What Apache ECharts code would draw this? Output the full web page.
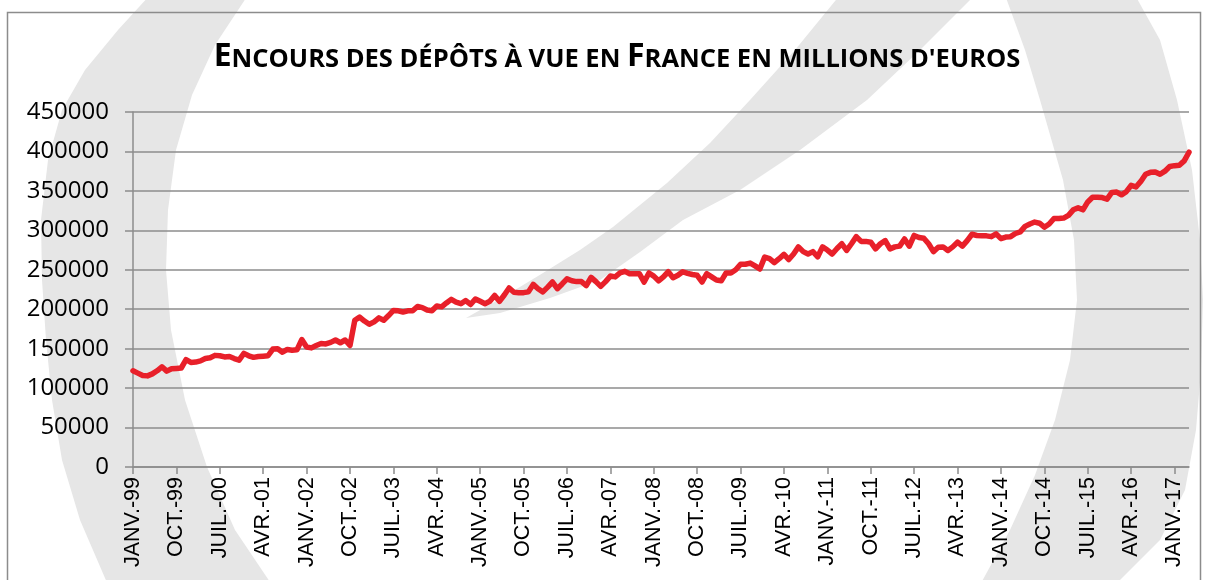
<!DOCTYPE html>
<html>
<head>
<meta charset="utf-8">
<script src="https://cdn.jsdelivr.net/npm/echarts@6/dist/echarts.min.js"></script>
<style>
  html, body { margin: 0; padding: 0; background: #fff; }
  #depots { width: 1208px; height: 580px; }
</style>
</head>
<body>
<div id="depots"></div>
<script>
// mois affichés sur l'axe (un libellé tous les 9 mois, Excel style)
var moisNoms = ['JANV.', 'FÉVR.', 'MARS', 'AVR.', 'MAI', 'JUIN', 'JUIL.', 'AOÛT', 'SEPT.', 'OCT.', 'NOV.', 'DÉC.'];
var anneeDebut = 1999;
var nbMois = 220; // janv. 1999 -> avr. 2017

var categories = [];
for (var i = 0; i < nbMois; i++) {
  var an = anneeDebut + Math.floor(i / 12);
  categories.push(moisNoms[i % 12] + '-' + String(an).slice(2));
}

// encours mensuels (millions d'euros)
var v1999 = [122000, 119000, 116000, 115500, 118000, 122000, 127000, 121500, 124500, 125000, 125500, 136000];
var v2000 = [132500, 133000, 134500, 137500, 138500, 141500, 141000, 139500, 140000, 137500, 135500, 144000];
var v2001 = [141000, 139000, 140000, 140500, 141000, 149500, 150000, 145500, 149000, 148000, 148500, 161500];
var v2002 = [152000, 151000, 154000, 156500, 156000, 158000, 161000, 157500, 161000, 154000, 186000, 190000];
var v2003 = [185000, 181000, 184000, 189000, 186000, 192000, 198500, 198000, 196500, 198000, 198000, 203500];
var v2004 = [202000, 199000, 198000, 204000, 203000, 208000, 212500, 209000, 207000, 211000, 206000, 213000];
var v2005 = [210000, 207000, 210000, 217500, 210000, 218000, 227000, 221500, 221000, 221000, 222000, 231500];
var v2006 = [226000, 222000, 228000, 234500, 226000, 232000, 238500, 236000, 235000, 235000, 230000, 240500];
var v2007 = [235000, 229000, 235000, 242000, 241000, 246000, 248000, 245000, 245000, 245000, 234500, 246000];
var v2008 = [242000, 236000, 241000, 247500, 240000, 243000, 247500, 245500, 244000, 243000, 234500, 245000];
var v2009 = [241000, 237000, 236000, 246000, 246000, 250000, 257000, 257000, 258500, 255000, 251000, 266000];
var v2010 = [264000, 259000, 264000, 269500, 263000, 270000, 279000, 273000, 270000, 273000, 266500, 279000];
var v2011 = [275000, 270000, 277000, 283000, 274500, 283000, 292000, 286000, 286000, 285000, 276500, 283000];
var v2012 = [287000, 276500, 279000, 280000, 289000, 280000, 293500, 291000, 290000, 283000, 273000, 278500];
var v2013 = [279000, 274500, 279000, 285000, 280000, 287000, 295000, 293500, 293000, 293000, 292000, 295500];
var v2014 = [289500, 291500, 292000, 296000, 298000, 305000, 308000, 310500, 309000, 304000, 308000, 315000];
var v2015 = [315000, 315500, 319000, 326000, 328500, 326000, 336000, 342000, 342000, 341500, 339500, 348000];
var v2016 = [348500, 345000, 349000, 357000, 355000, 362000, 371000, 373500, 374000, 371000, 375000, 381000];
var v2017 = [382000, 382500, 388000, 399000];

var encours = [].concat(v1999, v2000, v2001, v2002, v2003, v2004, v2005, v2006, v2007,
  v2008, v2009, v2010, v2011, v2012, v2013, v2014, v2015, v2016, v2017);

var gris = '#8c8c8c';
var filigrane = '#e6e6e6';

var chart = echarts.init(document.getElementById('depots'));

var option = {
  animation: false,
  backgroundColor: '#fff',
  graphic: [
    // filigrane : croissant gauche
    {
      type: 'polygon', z: -10, silent: true,
      shape: {
        points: [[150, -5], [118, 30], [85, 70], [62, 110], [48, 160], [41, 220], [42, 280], [46, 340],
          [52, 400], [62, 460], [80, 520], [108, 585],
          [272, 585], [235, 530], [207, 467], [185, 400], [171, 330], [166, 270], [168, 210],
          [176, 150], [192, 95], [215, 45], [248, -5]]
      },
      style: { fill: filigrane }
    },
    // filigrane : bande diagonale
    {
      type: 'polygon', z: -10, silent: true,
      shape: {
        points: [[466, 318], [505, 296], [543, 273], [580, 250], [613, 227], [667, 183], [710, 143],
          [750, 100], [795, 50], [840, -5],
          [975, -5], [920, 50], [867, 100], [800, 150], [740, 190], [683, 220], [640, 252],
          [600, 280], [550, 298], [500, 313]]
      },
      style: { fill: filigrane }
    },
    // filigrane : croissant droit
    {
      type: 'polygon', z: -10, silent: true,
      shape: {
        points: [[1135, -5], [1160, 40], [1177, 100], [1192, 170], [1200, 240], [1203, 300], [1201, 370],
          [1196, 430], [1185, 490], [1160, 540], [1115, 585],
          [980, 585], [1010, 530], [1035, 475], [1055, 420], [1070, 360], [1077, 300], [1074, 240],
          [1063, 180], [1040, 100], [1025, 50], [1005, -5]]
      },
      style: { fill: filigrane }
    },
    // cadre du graphique
    {
      type: 'rect', z: -5, silent: true,
      shape: { x: 7.5, y: 12.5, width: 1193, height: 600 },
      style: { fill: 'none', stroke: gris, lineWidth: 1.5 }
    }
  ],
  title: {
    text: "{b|E}{s|NCOURS DES DÉPÔTS À VUE EN }{b|F}{s|RANCE EN MILLIONS D'EUROS}",
    left: 612,
    top: 36,
    textAlign: 'center',
    textStyle: {
      rich: {
        b: { fontFamily: 'Open Sans', fontWeight: 'bold', fontSize: 32, color: '#000' },
        s: { fontFamily: 'Open Sans', fontWeight: 'bold', fontSize: 25.5, color: '#000', padding: [5, 0, 0, 0] }
      }
    }
  },
  grid: {
    left: 133,
    right: 19,
    top: 112,
    bottom: 113
  },
  xAxis: {
    type: 'category',
    data: categories,
    boundaryGap: false,
    axisLine: { lineStyle: { color: gris, width: 1.5 } },
    axisTick: { show: true, interval: 8, length: 7, lineStyle: { color: gris, width: 1.5 } },
    axisLabel: {
      interval: 8,
      rotate: 90,
      margin: 10,
      fontFamily: 'Liberation Sans',
      fontSize: 21.5,
      color: '#000'
    },
    splitLine: { show: false }
  },
  yAxis: {
    type: 'value',
    min: 0,
    max: 450000,
    interval: 50000,
    axisLine: { show: true, lineStyle: { color: gris, width: 1.5 } },
    axisTick: { show: true, length: 8, lineStyle: { color: gris, width: 1.5 } },
    axisLabel: {
      margin: 24,
      fontFamily: 'Open Sans',
      fontSize: 24,
      color: '#000',
      formatter: function (v) { return String(v); }
    },
    splitLine: { lineStyle: { color: gris, width: 1.5 } }
  },
  series: [
    {
      type: 'line',
      data: encours,
      showSymbol: false,
      color: '#e8202a',
      lineStyle: { width: 5.5, join: 'round', cap: 'round' }
    }
  ]
};

chart.setOption(option);
</script>
</body>
</html>
